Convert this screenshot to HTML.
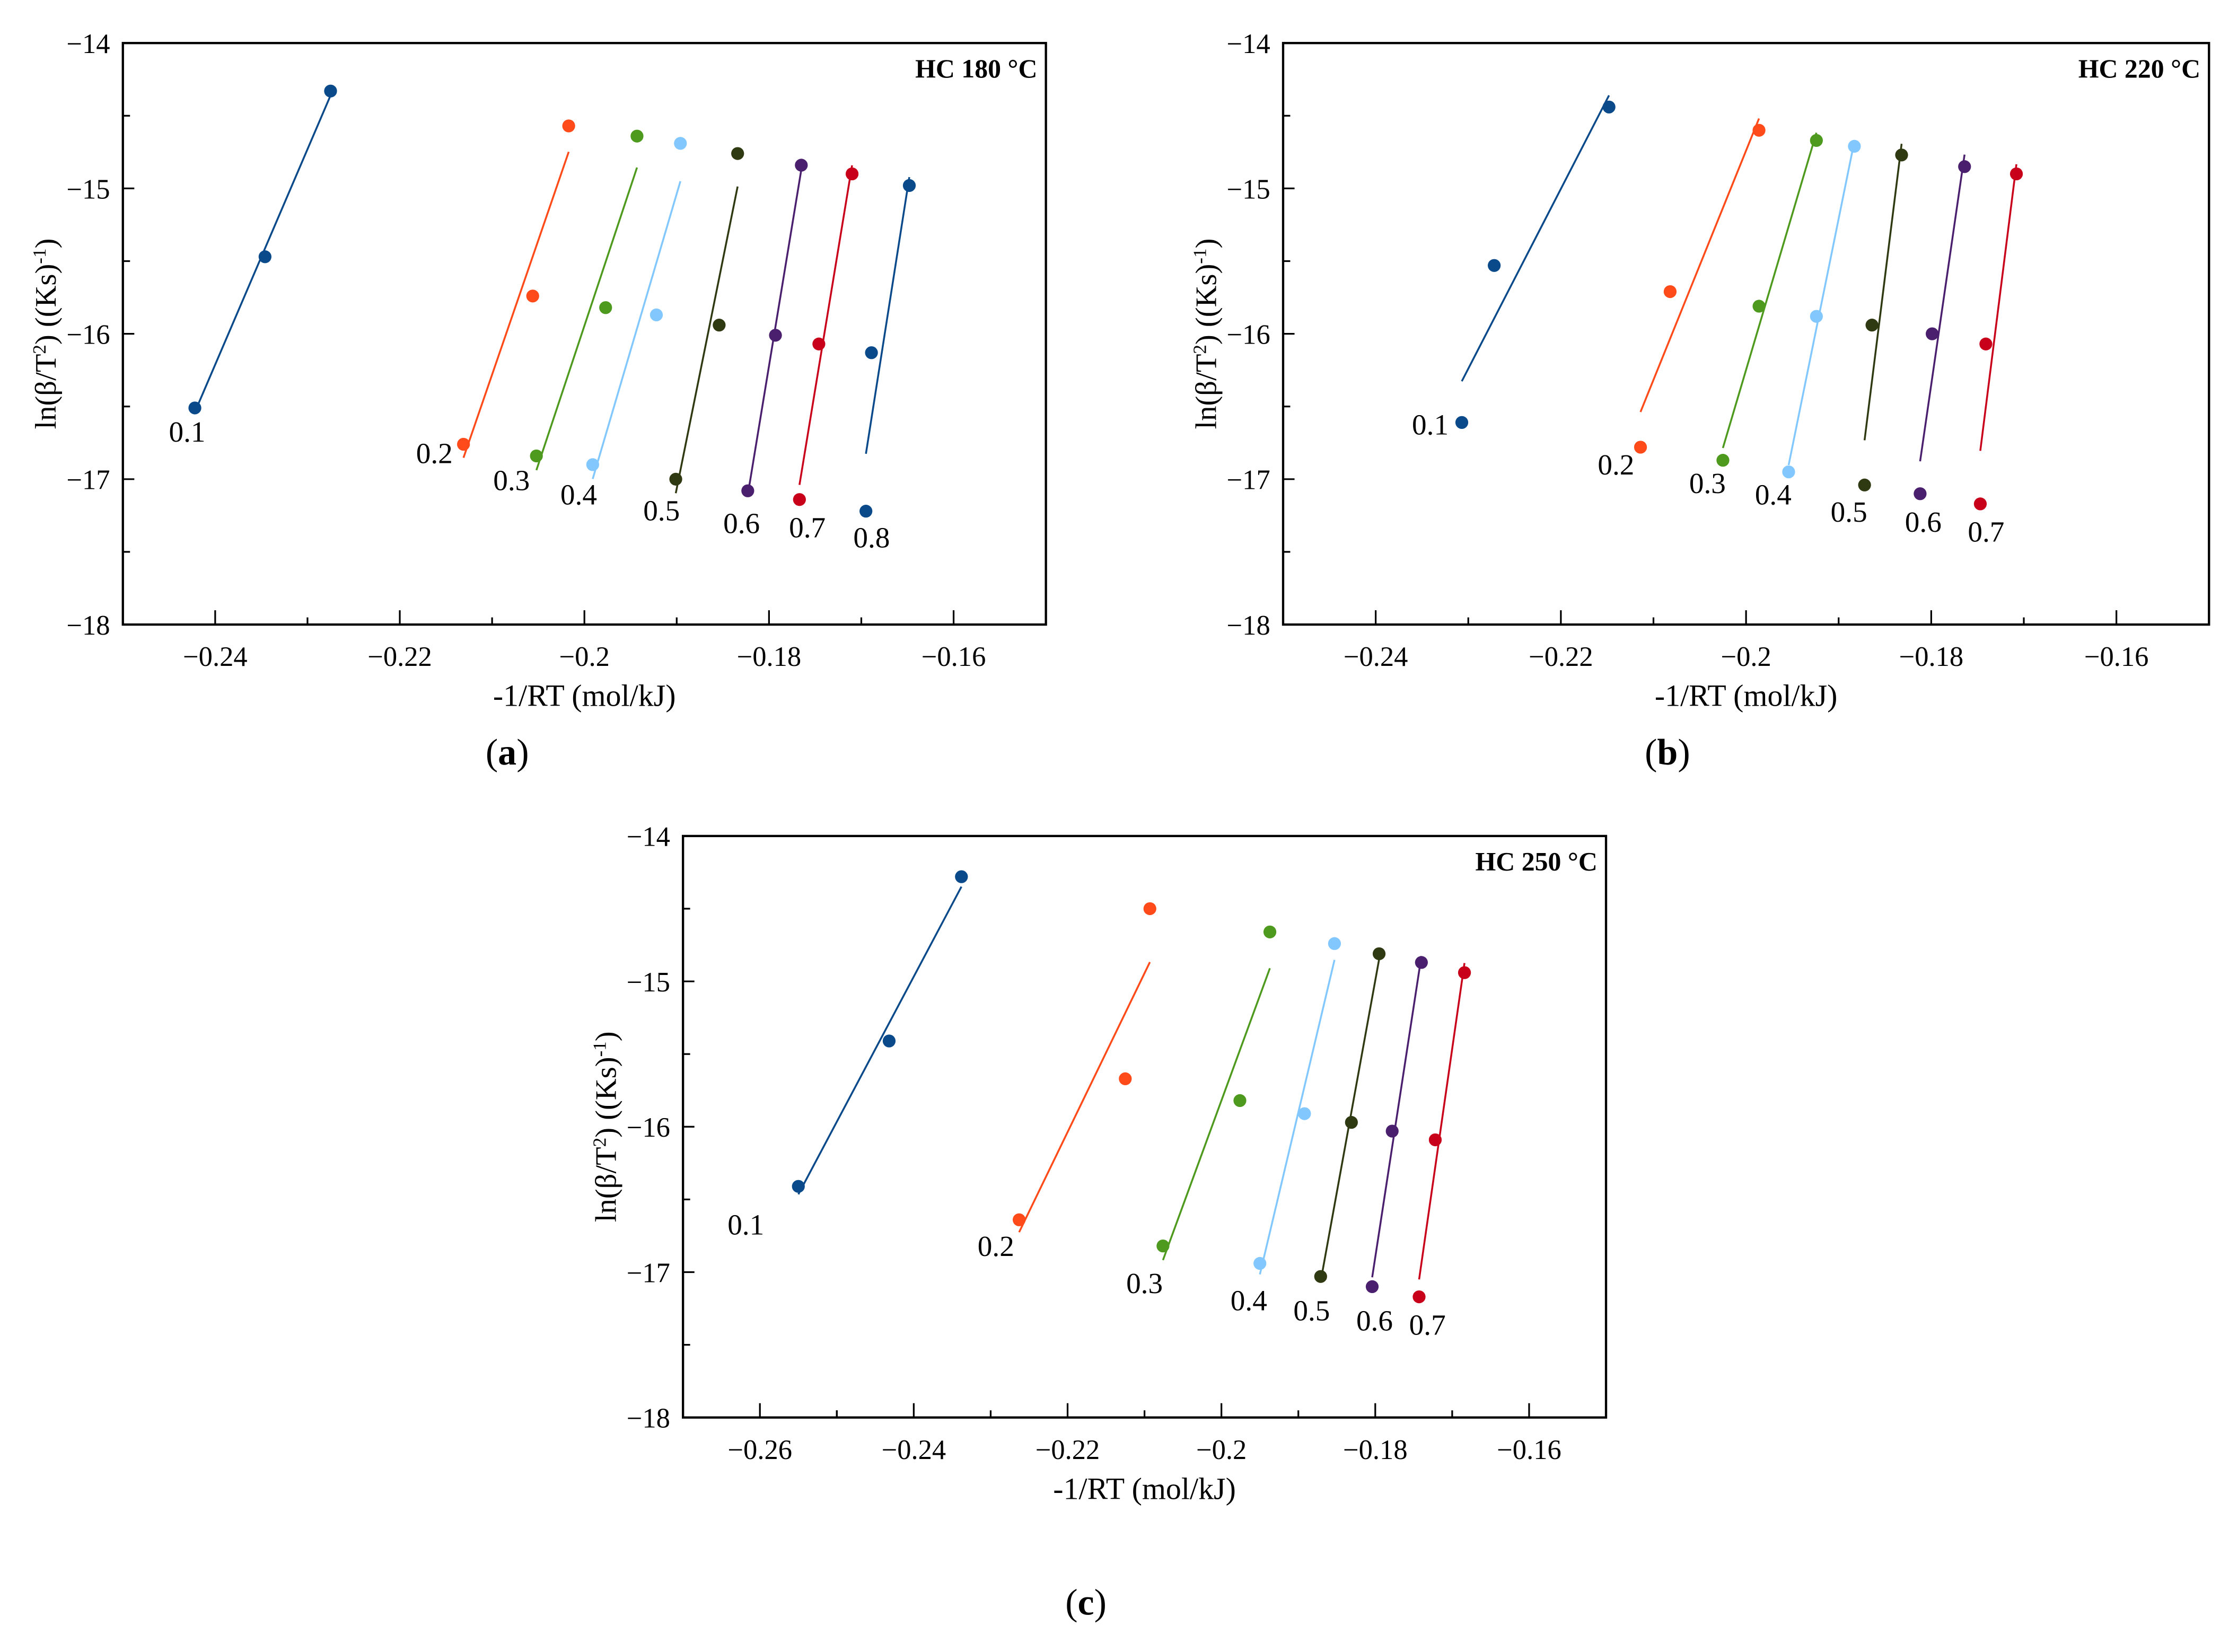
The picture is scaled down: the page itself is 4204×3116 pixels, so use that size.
<!DOCTYPE html>
<html><head><meta charset="utf-8"><style>
html,body{margin:0;padding:0;background:#fff;}
svg{display:block;font-family:"Liberation Serif",serif;}
</style></head><body>
<svg id="fig" width="4204" height="3116" viewBox="0 0 1560 1156" xmlns="http://www.w3.org/2000/svg">
</svg>
<script>
const fractions = ["0.1","0.2","0.3","0.4","0.5","0.6","0.7","0.8"];
const colors = ["#0a4a8a","#ff4a1a","#4e9a1e","#82c8ff","#2f3a12","#4a1f6e","#c8001a","#0a4a8a"];
const xTicksAB = [-0.24,-0.22,-0.2,-0.18,-0.16];
const xTickLabelsAB = ["\u22120.24","\u22120.22","\u22120.2","\u22120.18","\u22120.16"];
const xTicksC = [-0.26,-0.24,-0.22,-0.2,-0.18,-0.16];
const xTickLabelsC = ["\u22120.26","\u22120.24","\u22120.22","\u22120.2","\u22120.18","\u22120.16"];
const yTicks = [-14,-15,-16,-17,-18];
const yTickLabels = ["\u221214","\u221215","\u221216","\u221217","\u221218"];

// Panel (a) HC 180 °C
const aX = [
 [-0.2422,-0.2346,-0.2275],[-0.2131,-0.2056,-0.2017],[-0.2052,-0.1977,-0.1943],[-0.1991,-0.1922,-0.1896],
 [-0.1901,-0.1854,-0.1834],[-0.1823,-0.1793,-0.1765],[-0.1767,-0.1746,-0.1710],[-0.1695,-0.1689,-0.1648]];
const aY = [
 [-16.51,-15.47,-14.33],[-16.76,-15.74,-14.57],[-16.84,-15.82,-14.64],[-16.90,-15.87,-14.69],
 [-17.00,-15.94,-14.76],[-17.08,-16.01,-14.84],[-17.14,-16.07,-14.90],[-17.22,-16.13,-14.98]];
// Panel (b) HC 220 °C
const bX = [
 [-0.2307,-0.2272,-0.2148],[-0.2114,-0.2082,-0.1986],[-0.2025,-0.1986,-0.1924],[-0.1954,-0.1924,-0.1883],
 [-0.1872,-0.1864,-0.1832],[-0.1812,-0.1799,-0.1764],[-0.1747,-0.1741,-0.1708]];
const bY = [
 [-16.61,-15.53,-14.44],[-16.78,-15.71,-14.60],[-16.87,-15.81,-14.67],[-16.95,-15.88,-14.71],
 [-17.04,-15.94,-14.77],[-17.10,-16.00,-14.85],[-17.17,-16.07,-14.90]];
// Panel (c) HC 250 °C
const cX = [
 [-0.2550,-0.2432,-0.2338],[-0.2263,-0.2125,-0.2093],[-0.2076,-0.1976,-0.1937],[-0.1950,-0.1892,-0.1853],
 [-0.1871,-0.1831,-0.1795],[-0.1804,-0.1778,-0.1740],[-0.1743,-0.1722,-0.1684]];
const cY = [
 [-16.41,-15.41,-14.28],[-16.64,-15.67,-14.50],[-16.82,-15.82,-14.66],[-16.94,-15.91,-14.74],
 [-17.03,-15.97,-14.81],[-17.10,-16.03,-14.87],[-17.17,-16.09,-14.94]];

const NS="http://www.w3.org/2000/svg";
const svg=document.getElementById('fig');
function mk(tag,attrs,parent){const e=document.createElementNS(NS,tag);for(const k in attrs)e.setAttribute(k,attrs[k]);(parent||svg).appendChild(e);return e;}

function panel(cfg){
  const g=mk('g',{});
  
  
  const L=cfg.left,R=cfg.right,T=cfg.top,B=cfg.bottom;
  const sx=v=>L+(v-cfg.xmin)/(cfg.xmax-cfg.xmin)*(R-L);
  const sy=v=>T+(-14-v)/4*(B-T);
  const frame=mk('rect',{x:L,y:T,width:R-L,height:B-T,fill:'none',stroke:'#000','stroke-width':1.6},g);
  
  
  yTicks.forEach((v,i)=>{
    mk('line',{x1:L,x2:L+8,y1:sy(v),y2:sy(v),stroke:'#000','stroke-width':1.2},g);
    if(i<yTicks.length-1) mk('line',{x1:L,x2:L+5,y1:sy(v-0.5),y2:sy(v-0.5),stroke:'#000','stroke-width':1.2},g);
    const t=mk('text',{x:L-9,y:sy(v)+7,'text-anchor':'end','font-size':19.5},g);
    t.textContent=yTickLabels[i];
    
    
  });
  cfg.xt.forEach((v,i)=>{
    mk('line',{x1:sx(v),x2:sx(v),y1:B,y2:B-10,stroke:'#000','stroke-width':1.2},g);
    const m=v+0.01; if(m<cfg.xmax) mk('line',{x1:sx(m),x2:sx(m),y1:B,y2:B-5,stroke:'#000','stroke-width':1.2},g);
    const t=mk('text',{x:sx(v),y:B+29,'text-anchor':'middle','font-size':19.5},g);
    t.textContent=cfg.xl[i];
    
    
  });
  if(cfg.xmin<-0.26) mk('line',{x1:sx(-0.25),x2:sx(-0.25),y1:B,y2:B-5,stroke:'#000','stroke-width':1.2},g);
  cfg.X.forEach((xs,i)=>{
    const ys=cfg.Y[i];
    const s=mk('g',{},g);
    
    
    const n=xs.length;const mx=xs.reduce((a,b)=>a+b)/n,my=ys.reduce((a,b)=>a+b)/n;
    let sxy=0,sxx=0;for(let k=0;k<n;k++){sxy+=(xs[k]-mx)*(ys[k]-my);sxx+=(xs[k]-mx)**2;}
    const slope=sxy/sxx,ic=my-slope*mx;
    const x0=Math.min(...xs),x1=Math.max(...xs);
    const ln=mk('line',{x1:sx(x0),y1:sy(ic+slope*x0),x2:sx(x1),y2:sy(ic+slope*x1),stroke:colors[i],'stroke-width':1.3},s);
    
    
    xs.forEach((xv,k)=>{
      const c=mk('circle',{cx:sx(xv),cy:sy(ys[k]),r:4.5,fill:colors[i]},s);
      
      
    });
    const lp=cfg.labels[i];
    const t=mk('text',{x:lp[0],y:lp[1]+7,'text-anchor':'middle','font-size':20.5},s);
    t.textContent=fractions[i];
    
    
  });
  const ti=mk('text',{x:R-6,y:T+24,'text-anchor':'end','font-size':18.5,'font-weight':'bold'},g);
  ti.textContent=cfg.title;
  
  
  const xl=mk('text',{x:(L+R)/2,y:B+57,'text-anchor':'middle','font-size':21.5},g);
  xl.textContent='-1/RT (mol/kJ)';
  
  
  const yl=mk('text',{x:0,y:0,'text-anchor':'middle','font-size':21,transform:`translate(${L-47},${(T+B)/2}) rotate(-90)`},g);
  yl.innerHTML='ln(β/T<tspan baseline-shift="super" font-size="13">2</tspan>) ((Ks)<tspan baseline-shift="super" font-size="13">-1</tspan>)';
  
  
  const sl=mk('text',{x:cfg.sub[0],y:cfg.sub[1],'text-anchor':'middle','font-size':26},g);
  sl.innerHTML='(<tspan font-weight="bold">'+cfg.letter+'</tspan>)';
  
  
}

panel({name:'panel-a-hc180',left:86,right:732,top:30,bottom:437,xmin:-0.25,xmax:-0.15,xt:xTicksAB,xl:xTickLabelsAB,
  X:aX,Y:aY,title:'HC 180 °C',letter:'a',sub:[355,535],
  labels:[[131,302],[304,317],[358,336],[405,346],[463,357],[519,366],[565,369],[610,376]]});
panel({name:'panel-b-hc220',left:898,right:1546,top:30,bottom:437,xmin:-0.25,xmax:-0.15,xt:xTicksAB,xl:xTickLabelsAB,
  X:bX,Y:bY,title:'HC 220 °C',letter:'b',sub:[1167,535],
  labels:[[1001,297],[1131,325],[1195,338],[1241,346],[1294,358],[1346,365],[1390,372]]});
panel({name:'panel-c-hc250',left:478,right:1124,top:585,bottom:992,xmin:-0.27,xmax:-0.15,xt:xTicksC,xl:xTickLabelsC,
  X:cX,Y:cY,title:'HC 250 °C',letter:'c',sub:[760,1130],
  labels:[[522,857],[697,872],[801,898],[874,910],[918,917],[962,924],[999,927]]});
</script>
</body></html>
